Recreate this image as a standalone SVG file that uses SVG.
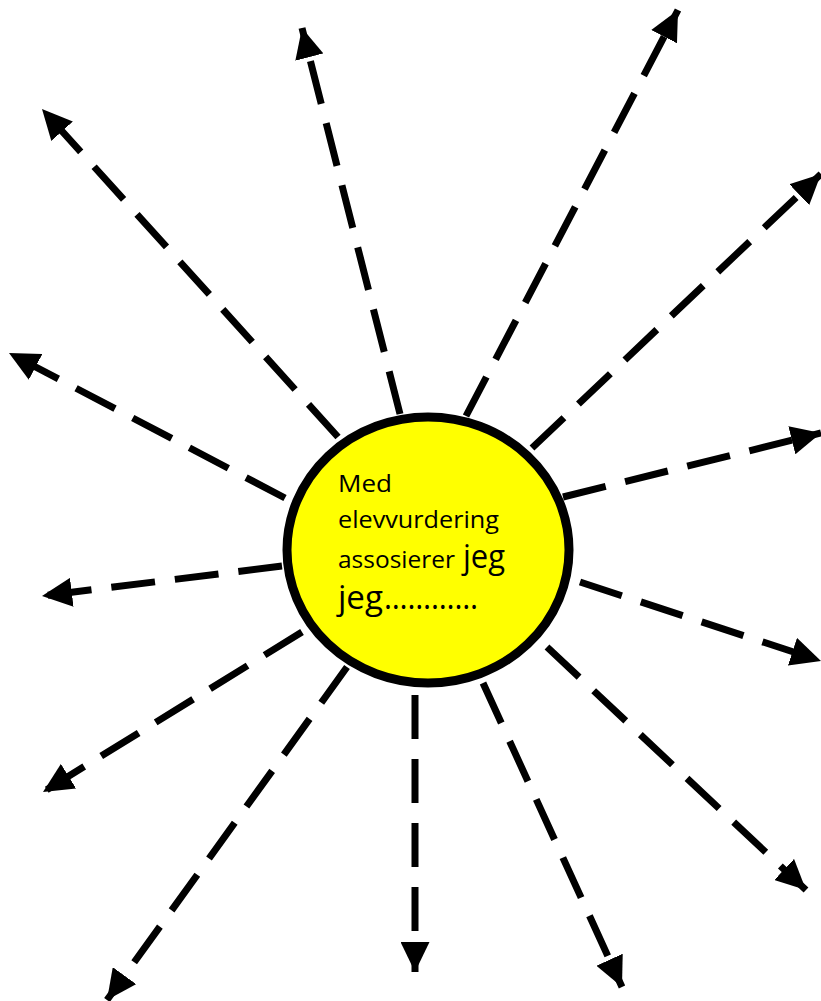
<svg xmlns="http://www.w3.org/2000/svg" width="821" height="1001" viewBox="0 0 821 1001">
  <defs>
    <marker id="ah" markerUnits="userSpaceOnUse" markerWidth="31" markerHeight="29" refX="30" refY="14.5" orient="auto" viewBox="0 0 31 29">
      <path d="M0,0 L30,14.5 L0,29 z" fill="#000"/>
    </marker>
  </defs>
  <style>
    .c { fill: none; stroke: #000; stroke-width: 7; stroke-dasharray: 44 20; marker-end: url(#ah); }
    .t { font-family: "Open Sans", "Noto Sans", sans-serif; fill: #000; }
    .s { font-size: 24px; }
    .b { font-size: 32px; }
  </style>
  <rect width="821" height="1001" fill="#fff"/>
  <g id="connectors">
    <path class="c" d="M338,437 L42,109"/>
    <path class="c" d="M400,414 L302,28"/>
    <path class="c" d="M466,416 L678,10"/>
    <path class="c" d="M532,448 L821,174"/>
    <path class="c" d="M563,497 L821,433"/>
    <path class="c" d="M580,582 L821,661"/>
    <path class="c" d="M547,647 L806,890"/>
    <path class="c" d="M483,683 L622,987"/>
    <path class="c" d="M415,695 L415,972"/>
    <path class="c" d="M347,667 L107,1000"/>
    <path class="c" d="M302,632 L43,792"/>
    <path class="c" d="M282,566 L42,596"/>
    <path class="c" d="M285,498 L9,353"/>
  </g>
  <g id="sun">
    <ellipse cx="428" cy="550" rx="141" ry="133" fill="#ffff00" stroke="#000" stroke-width="9"/>
    <text class="t s" x="338" y="492" textLength="54" lengthAdjust="spacingAndGlyphs">Med</text>
    <text class="t s" x="338" y="528" textLength="161" lengthAdjust="spacingAndGlyphs">elevvurdering</text>
    <text class="t s" x="338" y="568" textLength="117" lengthAdjust="spacingAndGlyphs">assosierer</text>
    <text class="t b" x="463" y="568" textLength="42" lengthAdjust="spacingAndGlyphs">jeg</text>
    <text class="t b" x="338" y="609" textLength="45" lengthAdjust="spacingAndGlyphs">jeg</text>
    <text class="t b" x="384" y="609" textLength="94" lengthAdjust="spacingAndGlyphs">…………</text>
  </g>
</svg>
